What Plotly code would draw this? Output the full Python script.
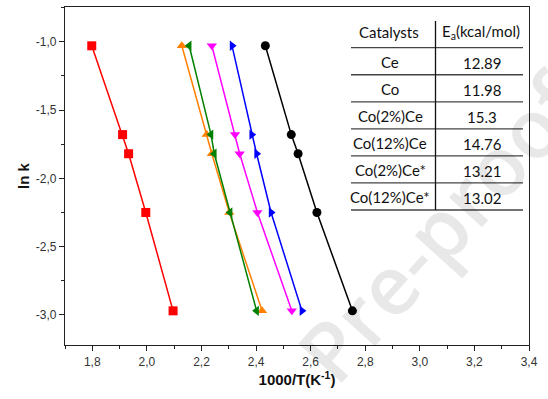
import plotly.graph_objects as go

# ---- data ----
ln_k = [-1.03, -1.68, -1.82, -2.25, -2.97]
x_ce = [1.798, 1.911, 1.933, 1.996, 2.096]
x_co = [2.434, 2.529, 2.554, 2.623, 2.753]
x_co2ce = [2.312, 2.384, 2.402, 2.455, 2.568]
x_co2ce_s = [2.238, 2.323, 2.340, 2.405, 2.531]
x_co12ce_s = [2.128, 2.219, 2.238, 2.302, 2.422]
x_co12ce = [2.155, 2.235, 2.247, 2.305, 2.402]

catalysts = ["Ce", "Co", "Co(2%)Ce", "Co(12%)Ce", "Co(2%)Ce*", "Co(12%)Ce*"]
ea_values = ["12.89", "11.98", "15.3", "14.76", "13.21", "13.02"]

x_ticks = [1.8, 2.0, 2.2, 2.4, 2.6, 2.8, 3.0, 3.2, 3.4]
x_tick_labels = ["1,8", "2,0", "2,2", "2,4", "2,6", "2,8", "3,0", "3,2", "3,4"]
y_ticks = [-1.0, -1.5, -2.0, -2.5, -3.0]
y_tick_labels = ["-1,0", "-1,5", "-2,0", "-2,5", "-3,0"]

series = [
    ("Ce", x_ce, "#ff0000", "square"),
    ("Co", x_co, "#000000", "circle"),
    ("Co(2%)Ce", x_co2ce, "#0000ff", "triangle-right"),
    ("Co(2%)Ce*", x_co2ce_s, "#ff00ff", "triangle-down"),
    ("Co(12%)Ce*", x_co12ce_s, "#ff8000", "triangle-up"),
    ("Co(12%)Ce", x_co12ce, "#008000", "triangle-left"),
]

W, H = 548, 399
L, R, T, B = 65, 529, 7, 345

def px(xp):
    return (xp - L) / (R - L)

def py(yp):
    return (B - yp) / (B - T)

fig = go.Figure()

# watermark
fig.add_annotation(text="Pre-proof", x=px(440), y=py(226), xref="paper", yref="paper",
                   xanchor="center", yanchor="middle",
                   showarrow=False, textangle=-48,
                   font=dict(family="Open Sans", size=82, weight=600, color="rgba(0,0,0,0.09)"))

for name, xs, col, sym in series:
    fig.add_trace(go.Scatter(x=xs, y=ln_k, name=name, mode="lines+markers",
                             line=dict(color=col, width=1.5),
                             marker=dict(symbol=sym, size=9, color=col)))

# table
row_lines = [47.7 + 27.05 * i for i in range(7)]
for yl in row_lines:
    fig.add_shape(type="line", xref="paper", yref="paper",
                  x0=px(351), x1=px(523), y0=py(yl), y1=py(yl),
                  line=dict(color="#444444", width=1.3))
fig.add_shape(type="line", xref="paper", yref="paper",
              x0=px(435.5), x1=px(435.5), y0=py(21), y1=py(210),
              line=dict(color="#111111", width=1.3))

tfont = dict(family="Lato", size=15, color="#111111")

def tab_text(text, xp, yp):
    fig.add_annotation(text=text, x=px(xp), y=py(yp), xref="paper", yref="paper",
                       xanchor="center", yanchor="middle", showarrow=False, font=tfont)

tab_text("Catalysts", 389, 32)
tab_text("E<sub>a</sub>(kcal/mol)", 481, 32)
for i, (c, v) in enumerate(zip(catalysts, ea_values)):
    yc = (row_lines[i] + row_lines[i + 1]) / 2 + 1
    tab_text(c, 390, yc)
    tab_text(v, 482, yc + 1)

axis_font = dict(family="Liberation Sans", size=12, color="#333333")
fig.update_layout(
    width=W, height=H,
    margin=dict(l=L, r=W - R, t=T, b=H - B),
    plot_bgcolor="white", paper_bgcolor="white",
    showlegend=False,
    xaxis=dict(range=[1.7, 3.4], tickvals=x_ticks, ticktext=x_tick_labels,
               ticks="outside", ticklen=5, tickwidth=1.2, tickcolor="#222",
               showline=True, linecolor="#222", linewidth=1.3, mirror=True,
               showgrid=False, zeroline=False, tickfont=axis_font, automargin=False,
               minor=dict(dtick=0.1, tick0=1.7, ticks="outside", ticklen=3, tickcolor="#222", showgrid=False),
               title=dict(text="<b>1000/T(K<sup>-1</sup>)</b>", standoff=4,
                          font=dict(family="Liberation Sans", size=15, color="#111"))),
    yaxis=dict(range=[-3.22, -0.746], tickvals=y_ticks, ticktext=y_tick_labels,
               ticks="outside", ticklen=5, tickwidth=1.2, tickcolor="#222",
               showline=True, linecolor="#222", linewidth=1.3, mirror=True,
               showgrid=False, zeroline=False, tickfont=axis_font, automargin=False,
               minor=dict(dtick=0.25, tick0=-1.0, ticks="outside", ticklen=3, tickcolor="#222", showgrid=False),
               title=dict(text="<b>ln k</b>", standoff=2,
                          font=dict(family="Liberation Sans", size=15, color="#111"))),
)

fig.write_html("out.html", config={"displayModeBar": False},
               post_script="document.body.style.margin='0';")
